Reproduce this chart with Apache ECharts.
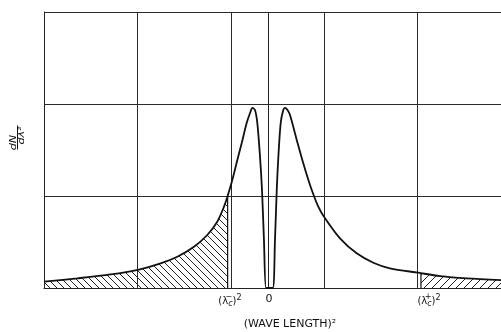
<!DOCTYPE html>
<html><head><meta charset="utf-8">
<script src="https://cdn.jsdelivr.net/npm/echarts@6/dist/echarts.min.js"></script>
<style>html,body{margin:0;padding:0;background:#fff}#c{width:501px;height:332px}</style>
</head><body><div id="c"></div>
<script>
// x in grid units (one vertical grid cell = 1), y in grid units (one horizontal cell = 1)
const curveX = [0, 0.357, 0.714, 1.017, 1.249, 1.427, 1.606, 1.748, 1.855, 1.927, 1.966, 2.016, 2.070, 2.117, 2.170, 2.206, 2.232, 2.259, 2.284, 2.313, 2.334, 2.355, 2.377, 2.404, 2.449, 2.473, 2.492, 2.509, 2.534, 2.559, 2.580, 2.607, 2.634, 2.706, 2.776, 2.848, 2.934, 3.009, 3.169, 3.348, 3.526, 3.704, 4.007, 4.240, 4.526, 4.900];
const curveY = [0.070, 0.105, 0.147, 0.201, 0.268, 0.340, 0.449, 0.576, 0.721, 0.884, 1.000, 1.174, 1.391, 1.576, 1.793, 1.902, 1.957, 1.935, 1.793, 1.424, 1.065, 0.522, 0, 0, 0, 0.522, 1.065, 1.424, 1.793, 1.924, 1.957, 1.935, 1.880, 1.609, 1.355, 1.120, 0.891, 0.758, 0.540, 0.377, 0.275, 0.214, 0.166, 0.130, 0.105, 0.086];
const cutoffX = [1.966, 4.036];       // (λc−)², (λc+)²
const cutoffY = [1.000, 0.162];
const originX = 2.398;
const labelValues = [1.991, 2.409, 4.122];
const labelTexts = ['(λc)²', '0', '(λc)²'];
const labelSigns = ['−', '', '+'];
const xTitle = '(WAVE LENGTH)²';

const curve = curveX.map((x, i) => [x, curveY[i]]);
const leftTail = curve.filter(p => p[0] < cutoffX[0]).concat([[cutoffX[0], cutoffY[0]]]);
const rightTail = [[cutoffX[1], cutoffY[1]]].concat(curve.filter(p => p[0] > cutoffX[1]));

function hatch(dir, step) {
  const c = document.createElement('canvas');
  c.width = step; c.height = step;
  const g = c.getContext('2d');
  g.strokeStyle = '#222'; g.lineWidth = 1;
  g.beginPath();
  for (let k = -1; k <= 1; k++) {
    if (dir > 0) { g.moveTo(k * step, step); g.lineTo(k * step + step, 0); }
    else { g.moveTo(k * step, 0); g.lineTo(k * step + step, step); }
  }
  g.stroke();
  return c;
}

const chart = echarts.init(document.getElementById('c'), null, {renderer: 'canvas'});
const FONT = 'DejaVu Sans';
function richLabel(v) {
  const i = labelValues.indexOf(v);
  if (i < 0) return '';
  if (labelTexts[i] === '0') return '{z|0}';
  return '{p|(λ}{c|c}{p|)}{s|2}';
}
function signLabel(v) {
  const i = labelValues.indexOf(v);
  return i < 0 || !labelSigns[i] ? '' : '{g|' + labelSigns[i] + '}';
}
const gridLine = {show: true, lineStyle: {color: '#2a2a2a', width: 1}};
chart.setOption({
  animation: false,
  grid: {left: 44, width: 467, top: 12, height: 276, containLabel: false, outerBoundsMode: 'none'},
  xAxis: [
    {type: 'value', min: 0, max: 5, interval: 1,
     axisLine: {show: true, onZero: false, lineStyle: {color: '#222', width: 1}},
     axisTick: {show: false}, axisLabel: {show: false}, splitLine: gridLine,
     name: xTitle, nameLocation: 'middle', nameGap: 31,
     nameTextStyle: {fontFamily: FONT, fontSize: 11, color: '#111', padding: [0, 0, 0, 25]}},
    {type: 'value', min: 0, max: 5, position: 'bottom',
     axisLine: {show: false}, axisTick: {show: false}, splitLine: {show: false},
     axisLabel: {show: true, customValues: labelValues, margin: 6, formatter: richLabel,
       rich: {
         p: {fontFamily: FONT, fontSize: 10, color: '#111'},
         c: {fontFamily: FONT, fontSize: 8, color: '#111', fontStyle: 'italic', padding: [6, 0, 0, 0]},
         s: {fontFamily: FONT, fontSize: 8, color: '#111', padding: [0, 0, 6, 0]},
         z: {fontFamily: FONT, fontSize: 11, color: '#111', padding: [0, 0, 7, 0]}
       }}},
    {type: 'value', min: 0, max: 5, position: 'bottom',
     axisLine: {show: false}, axisTick: {show: false}, splitLine: {show: false},
     axisLabel: {show: true, customValues: labelValues, margin: 5, formatter: signLabel,
       rich: {g: {fontFamily: FONT, fontSize: 8, color: '#111', padding: [0, 2, 0, 0]}}}}
  ],
  yAxis: {type: 'value', min: 0, max: 3, interval: 1,
    axisLine: {show: true, lineStyle: {color: '#222', width: 1}},
    axisTick: {show: false}, axisLabel: {show: false}, splitLine: gridLine},
  series: [
    {type: 'line', data: leftTail, symbol: 'none', smooth: 0.3, lineStyle: {width: 0},
     areaStyle: {color: {image: hatch(-1, 7), repeat: 'repeat'}, opacity: 1}, z: 2},
    {type: 'line', data: rightTail, symbol: 'none', smooth: 0.3, lineStyle: {width: 0},
     areaStyle: {color: {image: hatch(1, 8), repeat: 'repeat'}, opacity: 1}, z: 2},
    {type: 'line', data: [[cutoffX[0], 0], [cutoffX[0], cutoffY[0]]], symbol: 'none',
     lineStyle: {color: '#111', width: 1.2}, z: 4},
    {type: 'line', data: [[cutoffX[1], 0], [cutoffX[1], cutoffY[1]]], symbol: 'none',
     lineStyle: {color: '#111', width: 1.2}, z: 4},
    {type: 'line', data: curve, symbol: 'none', smooth: 0.3, lineStyle: {color: '#111', width: 1.8}, z: 5,
     markLine: {silent: true, symbol: 'none', label: {show: false},
       lineStyle: {color: '#222', width: 1, type: 'solid'}, data: [{xAxis: originX}]}}
  ],
  graphic: [{
    type: 'group', x: 17.5, y: 137.5, rotation: Math.PI / 2,
    children: [
      {type: 'text', x: -5, y: -4, scaleX: 1.4, style: {text: 'dN', font: 'italic 8px "DejaVu Sans"', fill: '#111', align: 'center', verticalAlign: 'middle'}},
      {type: 'line', shape: {x1: -12, y1: 0, x2: 12, y2: 0}, style: {stroke: '#111', lineWidth: 1}},
      {type: 'text', x: 2, y: 4.5, scaleX: 1.4, style: {text: 'dλ²', font: 'italic 8px "DejaVu Sans"', fill: '#111', align: 'center', verticalAlign: 'middle'}}
    ]
  }]
});
</script></body></html>
